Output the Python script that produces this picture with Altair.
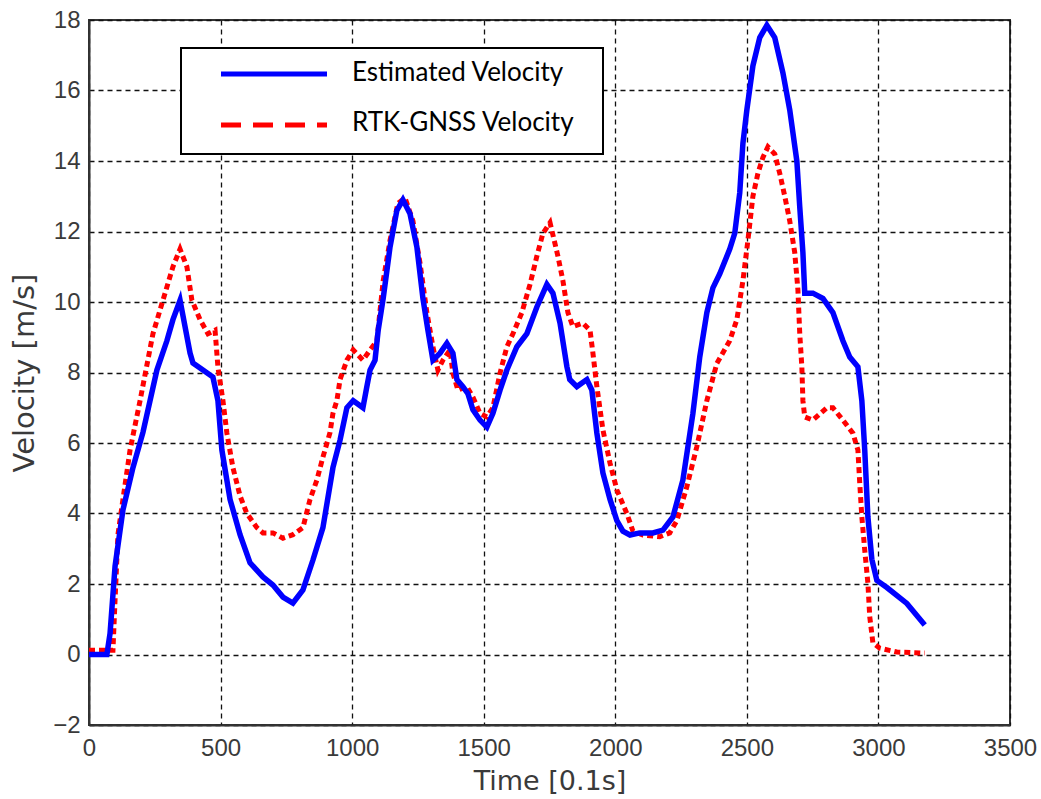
import altair as alt
import pandas as pd

series_names = ["Estimated Velocity", "RTK-GNSS Velocity"]
series_colors = ["#0000FF", "#FF0000"]

est_t = [0, 68, 80, 99, 129, 167, 205, 232, 258, 296, 319, 346, 384, 395, 433, 471, 490, 505,
         536, 574, 612, 661, 699, 737, 775, 813, 851, 889, 927, 954, 980, 1004, 1041, 1056, 1068,
         1087, 1099, 1118, 1144, 1170, 1193, 1220, 1246, 1269, 1288, 1307, 1334, 1360, 1383, 1398,
         1421, 1440, 1459, 1486, 1512, 1535, 1562, 1588, 1626, 1664, 1702, 1740, 1763, 1790, 1816,
         1827, 1854, 1892, 1911, 1930, 1953, 1980, 2006, 2029, 2056, 2093, 2143, 2181, 2219, 2257,
         2295, 2321, 2348, 2371, 2397, 2435, 2454, 2473, 2485, 2500, 2523, 2549, 2576, 2606, 2637,
         2663, 2690, 2701, 2713, 2720, 2751, 2789, 2827, 2865, 2891, 2922, 2937, 2948, 2960, 2975,
         2994, 3032, 3108, 3176]
est_v = [0, 0, 0.6, 2.5, 4.1, 5.3, 6.3, 7.2, 8.07, 8.9, 9.5, 10.05, 8.55, 8.27, 8.07, 7.87, 7.2, 5.8,
         4.4, 3.4, 2.6, 2.2, 1.97, 1.63, 1.46, 1.83, 2.68, 3.6, 5.3, 6.08, 7.0, 7.2, 7.0, 7.6, 8.07,
         8.35, 9.2, 10.1, 11.56, 12.6, 12.9, 12.5, 11.56, 10.1, 9.2, 8.35, 8.55, 8.83, 8.55, 7.8,
         7.6, 7.4, 6.94, 6.65, 6.45, 6.84, 7.5, 8.07, 8.73, 9.1, 9.86, 10.5, 10.25, 9.4, 8.17,
         7.8, 7.6, 7.8, 7.5, 6.28, 5.15, 4.4, 3.8, 3.5, 3.39, 3.45, 3.45, 3.53, 3.9, 4.95,
         6.84, 8.44, 9.7, 10.4, 10.8, 11.5, 11.95, 13.1, 14.5, 15.45, 16.7, 17.5, 17.85, 17.5, 16.5,
         15.45, 14.0, 12.7, 11.4, 10.25, 10.25, 10.1, 9.7, 8.9, 8.44, 8.16, 7.2, 5.8, 3.9, 2.7,
         2.1, 1.9, 1.45, 0.84]

rtk_t = [0, 91, 99, 110, 129, 156, 194, 243, 281, 319, 346, 372, 391, 422, 452, 479, 490, 509,
         524, 547, 574, 600, 638, 661, 699, 737, 775, 813, 840, 866, 889, 916, 927, 942, 954, 980,
         1004, 1041, 1068, 1094, 1118, 1144, 1174, 1201, 1231, 1258, 1284, 1307, 1326, 1345, 1372,
         1383, 1402, 1436, 1459, 1486, 1512, 1535, 1562, 1588, 1611, 1645, 1676, 1702, 1725, 1752,
         1782, 1801, 1820, 1839, 1877, 1904, 1915, 1930, 1953, 1980, 2006, 2044, 2067, 2105, 2169,
         2207, 2234, 2272, 2310, 2348, 2386, 2435, 2462, 2485, 2504, 2523, 2542, 2561, 2580, 2606,
         2625, 2644, 2663, 2682, 2694, 2701, 2709, 2713, 2720, 2751, 2804, 2827, 2865, 2903, 2922,
         2929, 2937, 2948, 2960, 2967, 2979, 3005, 3070, 3176]
rtk_v = [0.12, 0.12, 1.55, 3.4, 4.4, 5.8, 7.2, 9.1, 10.05, 11.0, 11.5, 11.0, 10.05, 9.5, 9.1, 9.2, 8.15, 7.2,
         6.28, 5.3, 4.5, 4.0, 3.6, 3.45, 3.45, 3.3, 3.4, 3.6, 4.4, 4.95, 5.6, 6.3, 6.84, 7.2, 7.8, 8.35,
         8.64, 8.35, 8.64, 8.9, 10.6, 11.75, 12.8, 12.95, 12.3, 11.1, 9.7, 8.73, 8.07, 8.35, 8.64,
         7.98, 7.5, 7.6, 7.3, 6.84, 6.74, 7.0, 7.98, 8.73, 9.1, 9.7, 10.5, 11.3, 11.95, 12.25,
         11.3, 10.6, 9.7, 9.3, 9.4, 9.2, 8.55, 7.6, 6.37, 5.43, 4.67, 4.0, 3.5, 3.39, 3.34,
         3.45, 3.8, 4.76, 5.9, 7.2, 8.26, 8.9, 9.5, 10.6, 11.75, 13.0, 13.65, 14.1, 14.4, 14.2,
         13.65, 13.0, 12.3, 11.4, 10.35, 9.1, 8.16, 7.2, 6.74, 6.65, 7.0, 7.0, 6.65, 6.28, 5.8,
         4.86, 3.9, 2.96, 2.02, 1.07, 0.33, 0.18, 0.07, 0.04]

x_ticks = [0, 500, 1000, 1500, 2000, 2500, 3000, 3500]
y_ticks = [-2, 0, 2, 4, 6, 8, 10, 12, 14, 16, 18]

est_df = pd.DataFrame({"t": est_t, "v": est_v})
rtk_df = pd.DataFrame({"t": rtk_t, "v": rtk_v})

xscale = alt.Scale(domain=[0, 3500], nice=False, zero=False)
yscale = alt.Scale(domain=[-2, 18], nice=False, zero=False)

axis_common = dict(
    grid=True, gridColor="#111111", gridDash=[5, 4], gridWidth=1.3, gridOpacity=1,
    ticks=False, domainColor="#333333", domainWidth=2, labelFlush=False, format="d",
    labelFont="Liberation Sans", labelFontSize=24, labelColor="#3a3a3a",
    titleFont="DejaVu Sans", titleFontWeight="normal", titleColor="#3a3a3a",
)

xenc = alt.X("t:Q", scale=xscale, axis=alt.Axis(values=x_ticks, title="Time [0.1s]",
             labelPadding=11, titlePadding=8, titleFontSize=27, **axis_common))
yenc = alt.Y("v:Q", scale=yscale, axis=alt.Axis(values=y_ticks, title="Velocity [m/s]",
             labelPadding=9, titlePadding=13, titleFontSize=29, **axis_common))

rtk_line = alt.Chart(rtk_df).mark_line(
    color=series_colors[1], strokeWidth=5, strokeDash=[6, 4], strokeCap="butt"
).encode(x=xenc, y=yenc)

est_line = alt.Chart(est_df).mark_line(
    color=series_colors[0], strokeWidth=5.5
).encode(x="t:Q", y="v:Q")

one = alt.Data(values=[{"k": 1}])
leg_box = alt.Chart(one).mark_rect(fill="white", stroke="black", strokeWidth=2).encode(
    x=alt.value(92), x2=alt.value(514), y=alt.value(28), y2=alt.value(134))
leg_blue = alt.Chart(one).mark_rule(color=series_colors[0], strokeWidth=5).encode(
    x=alt.value(132), x2=alt.value(238), y=alt.value(54))
leg_red = alt.Chart(one).mark_rule(color=series_colors[1], strokeWidth=5, strokeDash=[20, 12]).encode(
    x=alt.value(132), x2=alt.value(238), y=alt.value(105))
leg_t1 = alt.Chart(one).mark_text(align="left", baseline="middle", font="Lato", fontSize=26,
                                  color="black").encode(
    x=alt.value(263), y=alt.value(53), text=alt.value(series_names[0]))
leg_t2 = alt.Chart(one).mark_text(align="left", baseline="middle", font="Lato", fontSize=26,
                                  color="black").encode(
    x=alt.value(263), y=alt.value(103), text=alt.value(series_names[1]))

chart = alt.layer(rtk_line, est_line, leg_box, leg_blue, leg_red, leg_t1, leg_t2).properties(
    width=921, height=705,
    padding={"left": 89, "top": 20, "right": 31, "bottom": 74},
    autosize=alt.AutoSizeParams(type="none"),
    background="white",
).configure_view(stroke="#333333", strokeWidth=2)

chart.save("out.html", embed_options={"renderer": "svg", "actions": False})
